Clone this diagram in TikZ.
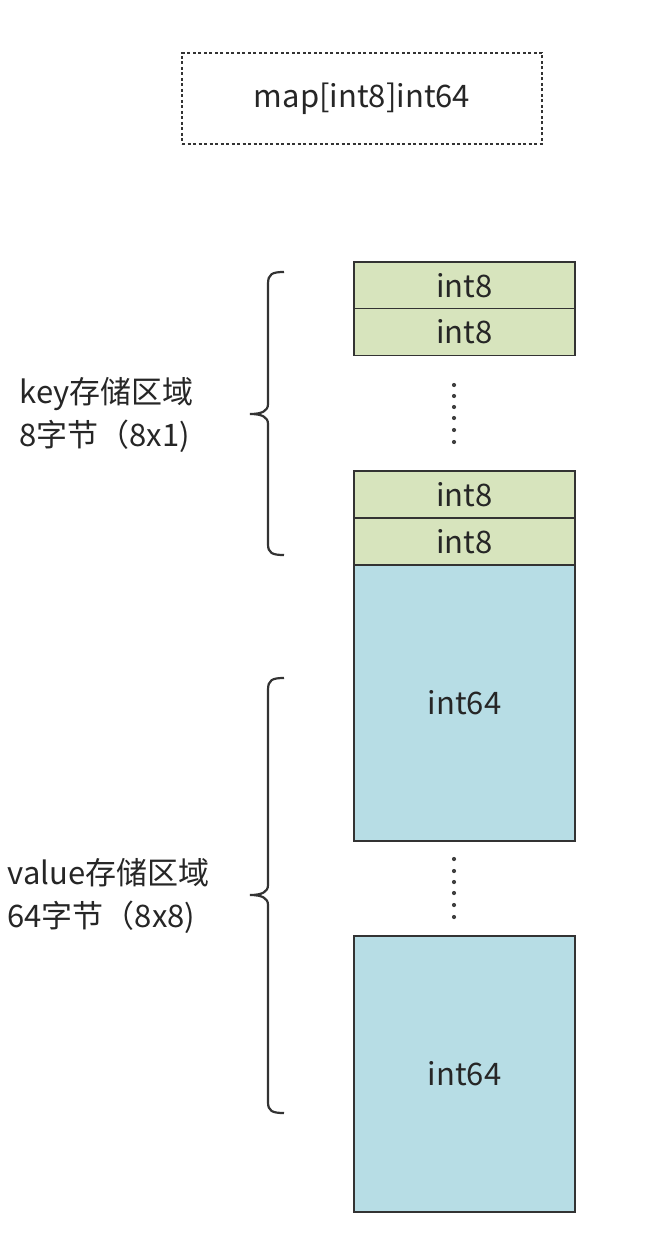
\documentclass[tikz,border=0pt]{standalone}
\usepackage{fontspec}
\setmainfont{Noto Sans CJK SC}
\begin{document}
\begin{tikzpicture}[x=1pt,y=-1pt,
  lbl/.style={text=black!85, font=\fontsize{31}{36}\selectfont},
  kbox/.style={draw=black!80, line width=1.4pt, fill=keygreen, minimum width=221pt, minimum height=47pt, inner sep=0pt, lbl},
  vbox/.style={draw=black!80, line width=1.4pt, fill=valblue, minimum width=221pt, minimum height=276pt, inner sep=0pt, lbl},
  brace/.style={draw=black!80, line width=2.2pt},
  dot/.style={fill=black!75, circle, inner sep=0pt, minimum size=4.2pt},
  side/.style={lbl, align=left, anchor=west, font=\fontsize{31}{43}\selectfont}
]
\definecolor{keygreen}{HTML}{D7E4BD}
\definecolor{valblue}{HTML}{B7DDE5}
\useasboundingbox[fill=white] (0,0) rectangle (670,1252);

\node[draw=black!80, line width=1.6pt, dash pattern=on 3pt off 2.5pt, minimum width=360pt, minimum height=91pt, inner sep=0pt, lbl] (title) at (362,98.5) {map[int8]int64};

\node[kbox] (k1) at (464.5,285.5) {int8};
\node[kbox] (k2) at (464.5,332) {int8};
\node[kbox] (k3) at (464.5,494.5) {int8};
\node[kbox] (k4) at (464.5,541.5) {int8};

\foreach \i/\y in {1/385,2/396,3/407,4/418,5/430,6/442}
  \node[dot] (kd\i) at (454,\y) {};

\node[vbox] (v1) at (464.5,703) {int64};
\node[vbox] (v2) at (464.5,1074) {int64};

\foreach \i/\y in {1/859,2/871,3/882,4/893,5/905,6/917}
  \node[dot] (vd\i) at (454,\y) {};

% key brace
\draw[brace] (284,272) .. controls (272,272) and (268,274) .. (268,284) -- (268,404)
  .. controls (268,411) and (262,414) .. (250,414)
  .. controls (262,414) and (268,417) .. (268,424) -- (268,544)
  .. controls (268,553) and (272,555) .. (284,555);
% value brace
\draw[brace] (284,678) .. controls (272,678) and (268,680) .. (268,690) -- (268,885)
  .. controls (268,892) and (262,895) .. (250,895)
  .. controls (262,895) and (268,898) .. (268,905) -- (268,1102)
  .. controls (268,1111) and (272,1113) .. (284,1113);

\node[side] (klbl) at (16,415) {key存储区域\\8字节（8x1)};
\node[side] (vlbl) at (4,896) {value存储区域\\64字节（8x8)};
\end{tikzpicture}
\end{document}
